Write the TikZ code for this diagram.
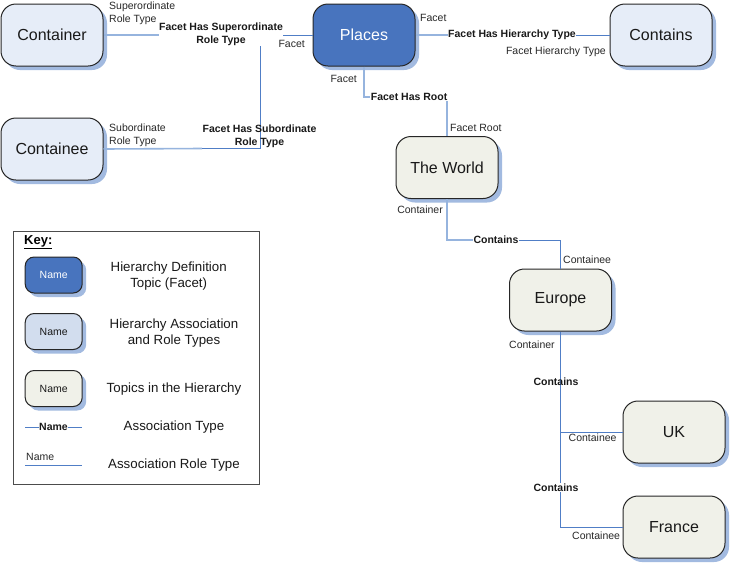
\documentclass[tikz,border=0pt]{standalone}
\usepackage{fontspec}
\setmainfont{Liberation Sans}
\usetikzlibrary{shadows}
\definecolor{facetblue}{RGB}{72,116,190}
\definecolor{rolefill}{RGB}{230,237,248}
\definecolor{keyrolefill}{RGB}{210,221,238}
\definecolor{topicfill}{RGB}{240,241,233}
\definecolor{shadowblue}{RGB}{162,186,224}
\definecolor{lightline}{RGB}{150,180,222}
\definecolor{darkline}{RGB}{80,126,198}
\definecolor{labelgray}{RGB}{40,40,40}
\newcommand{\smallf}{\fontsize{10.5}{13}\selectfont}
\newcommand{\boldf}{\bfseries\fontsize{10.5}{13}\selectfont}
\newcommand{\keyf}{\fontsize{13.3}{16}\selectfont}
\tikzset{
  boxbase/.style={draw=black!85, line width=1pt, rounded corners=15pt,
    minimum width=102pt, minimum height=62pt, inner sep=0pt,
    font=\fontsize{16}{19}\selectfont, text=black!90,
    general shadow={shadow xshift=4pt, shadow yshift=-4pt, fill=shadowblue}},
  facetbox/.style={boxbase, fill=facetblue, text=white},
  rolebox/.style={boxbase, fill=rolefill},
  topicbox/.style={boxbase, fill=topicfill},
  keybox/.style={boxbase, rounded corners=9pt, minimum width=57pt, minimum height=36pt,
    font=\fontsize{10.5}{12}\selectfont},
  lline/.style={draw=lightline, line width=1.6pt},
  dline/.style={draw=darkline, line width=1pt},
  rolelbl/.style={font=\smallf, inner sep=0pt, text=labelgray, align=left},
  assoclbl/.style={font=\boldf, inner sep=0.5pt, align=center, text=black!90},
  assocfill/.style={assoclbl, fill=white},
  keytext/.style={font=\keyf, inner sep=0pt, align=center, text=black!90}
}
\begin{document}
\begin{tikzpicture}[x=1pt, y=-1pt]
\useasboundingbox (0,0) rectangle (730,563);
\fill[white] (0,0) rectangle (730,563);

% main nodes
\node[rolebox]  (container) at (52,35)  {Container};
\node[rolebox]  (containee) at (52,149) {Containee};
\node[facetbox] (places)    at (364,35) {Places};
\node[rolebox]  (contains)  at (661,35) {Contains};
\node[topicbox] (world)     at (447,167.5) {The World};
\node[topicbox] (europe)    at (560.5,300) {Europe};
\node[topicbox] (uk)        at (674,432) {UK};
\node[topicbox] (france)    at (674,527) {France};

% junctions / label anchors
\coordinate (j1) at (260,35);
\coordinate (cHier) at (512,35);
\coordinate (cRoot) at (447,97);
\coordinate (cWE) at (496,240);

% connectors
\draw[lline] (container.east) -- (j1);
\draw[dline] (j1) -- (places.west);
\draw[lline] (containee.east) -- (202,148.5);
\draw[dline] (202,148.5) -| (j1);
\draw[lline] (places.east) -- (cHier);
\draw[dline] (cHier) -- (contains.west);
\draw[lline] (places.south) |- (cRoot);
\draw[lline] (cRoot) -- (world.north);
\draw[lline] (world.south) |- (cWE);
\draw[dline] (cWE) -| (europe.north);
\draw[dline] (europe.south) |- (uk.west);
\draw[dline] (europe.south) |- (france.west);

% association labels
\node[assocfill] (lSup) at (221,34.5) {Facet Has Superordinate\\Role Type};
\node[assoclbl]  (lSub) at (259.5,136.5) {Facet Has Subordinate\\Role Type};
\node[assocfill] (lHier) at (cHier) {Facet Has Hierarchy Type};
\node[assocfill, anchor=east] (lRoot) at (448,97) {Facet Has Root};
\node[assocfill] (lC1) at (cWE) {Contains};
\node[assoclbl]  (lC2) at (556,381.7) {Contains};
\node[assocfill] (lC3) at (556,487.7) {Contains};

% role labels
\node[rolelbl, anchor=west] (r1) at (109,13.5) {Superordinate\\Role Type};
\node[rolelbl, anchor=east] (r2) at (305,44) {Facet};
\node[rolelbl, anchor=west] (r3) at (109,135.5) {Subordinate\\Role Type};
\node[rolelbl, anchor=west] (r4) at (420,18) {Facet};
\node[rolelbl, anchor=east] (r5) at (606,52) {Facet Hierarchy Type};
\node[rolelbl, anchor=east] (r6) at (357,78.5) {Facet};
\node[rolelbl, anchor=west] (r7) at (450,127.5) {Facet Root};
\node[rolelbl, anchor=east] (r8) at (443,209.5) {Container};
\node[rolelbl, anchor=west] (r9) at (563,260) {Containee};
\node[rolelbl, anchor=west] (r10) at (509,345) {Container};
\node[rolelbl, anchor=west] (r11) at (568.5,438) {Containee};
\node[rolelbl, anchor=west] (r12) at (572,536) {Containee};

% key
\node[draw=black!70, line width=1pt, minimum width=246pt, minimum height=253pt, inner sep=0pt] (keyframe) at (136.5,358) {};
\node[font=\bfseries\fontsize{13}{15}\selectfont, anchor=west, inner sep=0pt] (keytitle) at (24,242) {\underline{Key:}};
\node[keybox, fill=facetblue, text=white] (k1) at (53.7,275) {Name};
\node[keybox, fill=keyrolefill] (k2) at (53.7,331.5) {Name};
\node[keybox, fill=topicfill] (k3) at (53.7,388.5) {Name};
\node[keytext] (t1) at (168.7,276) {Hierarchy Definition\\Topic (Facet)};
\node[keytext] (t2) at (174,333) {Hierarchy Association\\and Role Types};
\node[keytext] (t3) at (174,389.5) {Topics in the Hierarchy};
\node[keytext] (t4) at (174,427) {Association Type};
\node[keytext] (t5) at (174,465) {Association Role Type};
\coordinate (ka1) at (25,427.3);
\coordinate (ka2) at (82.3,427.3);
\draw[dline] (ka1) -- (ka2);
\node[assocfill, font=\bfseries\fontsize{10.5}{12}\selectfont] (kaname) at (53.5,427.3) {Name};
\coordinate (kr1) at (25,465);
\coordinate (kr2) at (82.3,465);
\draw[dline] (kr1) -- (kr2);
\node[rolelbl, anchor=west, font=\fontsize{10.5}{12}\selectfont] (krname) at (26,457) {Name};
\end{tikzpicture}
\end{document}
